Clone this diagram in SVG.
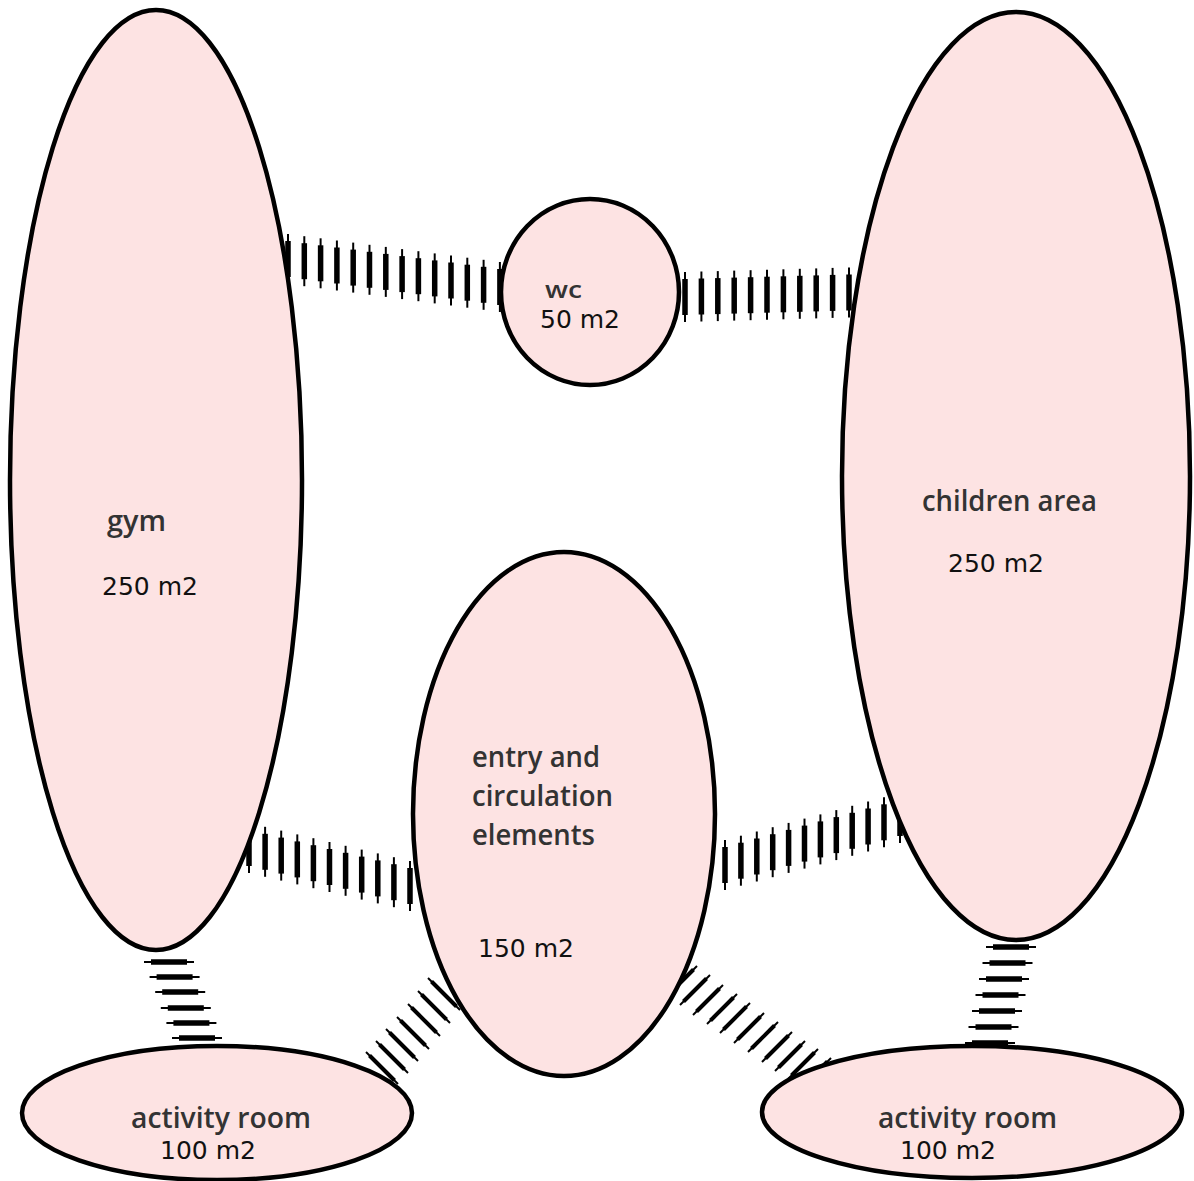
<svg xmlns="http://www.w3.org/2000/svg" xmlns:xlink="http://www.w3.org/1999/xlink" width="1194" height="1181" viewBox="0 0 1194 1181">
<style>
.node ellipse{fill:#fde3e3;stroke:#000;stroke-width:4.5}
.lbl{font-family:"Open Sans","DejaVu Sans",sans-serif;font-size:28px;font-weight:600;fill:#333}
.wc{font-size:23px}
.num{font-family:"DejaVu Sans","Liberation Sans",sans-serif;font-size:25px;fill:#111}
.tk line{stroke:#000;stroke-linecap:butt}
</style>
<defs>
<g id="tv" class="tk"><line x1="0" y1="-25" x2="0" y2="25" stroke-width="2"/><line x1="0" y1="-18" x2="0" y2="18" stroke-width="5.5"/></g>
<g id="th" class="tk"><line x1="-25" y1="0" x2="25" y2="0" stroke-width="2"/><line x1="-18" y1="0" x2="18" y2="0" stroke-width="5.5"/></g>
<g id="tb" class="tk"><line x1="-16" y1="-16" x2="16" y2="16" stroke-width="2"/><line x1="-12.5" y1="-12.5" x2="12.5" y2="12.5" stroke-width="4"/></g>
<g id="tf" class="tk"><line x1="-15" y1="15" x2="15" y2="-15" stroke-width="2"/><line x1="-11.5" y1="11.5" x2="11.5" y2="-11.5" stroke-width="4"/></g>
</defs>
<rect width="1194" height="1181" fill="#fff"/>
<g id="connectors">
<g id="gym-wc">
<use xlink:href="#tv" x="288" y="259"/><use xlink:href="#tv" x="304.3" y="261.2"/><use xlink:href="#tv" x="320.6" y="263.3"/><use xlink:href="#tv" x="336.9" y="265.5"/><use xlink:href="#tv" x="353.2" y="267.6"/><use xlink:href="#tv" x="369.5" y="269.8"/><use xlink:href="#tv" x="385.8" y="271.9"/><use xlink:href="#tv" x="402.1" y="274.1"/><use xlink:href="#tv" x="418.4" y="276.2"/><use xlink:href="#tv" x="434.7" y="278.4"/><use xlink:href="#tv" x="451" y="280.5"/><use xlink:href="#tv" x="467.3" y="282.7"/><use xlink:href="#tv" x="483.6" y="284.8"/><use xlink:href="#tv" x="499.9" y="287"/>
</g>
<g id="wc-children">
<use xlink:href="#tv" x="685" y="297"/><use xlink:href="#tv" x="701.4" y="296.5"/><use xlink:href="#tv" x="717.8" y="296.1"/><use xlink:href="#tv" x="734.2" y="295.6"/><use xlink:href="#tv" x="750.6" y="295.2"/><use xlink:href="#tv" x="767" y="294.7"/><use xlink:href="#tv" x="783.4" y="294.3"/><use xlink:href="#tv" x="799.8" y="293.8"/><use xlink:href="#tv" x="816.2" y="293.4"/><use xlink:href="#tv" x="832.6" y="292.9"/><use xlink:href="#tv" x="849" y="292.5"/>
</g>
<g id="gym-entry">
<use xlink:href="#tv" x="249" y="848"/><use xlink:href="#tv" x="265.1" y="851.8"/><use xlink:href="#tv" x="281.2" y="855.6"/><use xlink:href="#tv" x="297.3" y="859.4"/><use xlink:href="#tv" x="313.4" y="863.2"/><use xlink:href="#tv" x="329.5" y="867"/><use xlink:href="#tv" x="345.6" y="870.8"/><use xlink:href="#tv" x="361.7" y="874.6"/><use xlink:href="#tv" x="377.8" y="878.4"/><use xlink:href="#tv" x="393.9" y="882.2"/><use xlink:href="#tv" x="410" y="886"/>
</g>
<g id="entry-children">
<use xlink:href="#tv" x="725" y="865"/><use xlink:href="#tv" x="740.9" y="860.7"/><use xlink:href="#tv" x="756.8" y="856.5"/><use xlink:href="#tv" x="772.7" y="852.2"/><use xlink:href="#tv" x="788.6" y="847.9"/><use xlink:href="#tv" x="804.5" y="843.6"/><use xlink:href="#tv" x="820.4" y="839.4"/><use xlink:href="#tv" x="836.3" y="835.1"/><use xlink:href="#tv" x="852.2" y="830.8"/><use xlink:href="#tv" x="868.1" y="826.5"/><use xlink:href="#tv" x="884" y="822.3"/><use xlink:href="#tv" x="900" y="818"/>
</g>
<g id="gym-activity1">
<use xlink:href="#th" x="169" y="962"/><use xlink:href="#th" x="174.6" y="977"/><use xlink:href="#th" x="180.2" y="992"/><use xlink:href="#th" x="185.8" y="1008"/><use xlink:href="#th" x="191.4" y="1023"/><use xlink:href="#th" x="197" y="1038"/>
</g>
<g id="children-activity2">
<use xlink:href="#th" x="1011" y="947"/><use xlink:href="#th" x="1007.5" y="963"/><use xlink:href="#th" x="1004" y="979"/><use xlink:href="#th" x="1000.5" y="995"/><use xlink:href="#th" x="997" y="1011"/><use xlink:href="#th" x="993.5" y="1027"/><use xlink:href="#th" x="990" y="1043"/>
</g>
<g id="entry-activity1">
<use xlink:href="#tb" x="444" y="994"/><use xlink:href="#tb" x="434" y="1007"/><use xlink:href="#tb" x="424" y="1020"/><use xlink:href="#tb" x="413" y="1033"/><use xlink:href="#tb" x="402" y="1045"/><use xlink:href="#tb" x="392" y="1057"/><use xlink:href="#tb" x="382" y="1068"/>
</g>
<g id="entry-activity2">
<use xlink:href="#tf" x="682" y="981"/><use xlink:href="#tf" x="695" y="990"/><use xlink:href="#tf" x="708" y="1000"/><use xlink:href="#tf" x="722" y="1009"/><use xlink:href="#tf" x="735" y="1018"/><use xlink:href="#tf" x="749" y="1028"/><use xlink:href="#tf" x="763" y="1037"/><use xlink:href="#tf" x="777" y="1047"/><use xlink:href="#tf" x="790" y="1056"/><use xlink:href="#tf" x="803" y="1064"/><use xlink:href="#tf" x="816" y="1073"/>
</g>
</g>
<g id="gym" class="node">
<ellipse cx="156" cy="480" rx="146" ry="470"/>
<text class="lbl" x="107" y="531" textLength="59" lengthAdjust="spacingAndGlyphs">gym</text>
<text class="num" x="102" y="595">250 m2</text>
</g>
<g id="wc" class="node">
<ellipse cx="590" cy="292" rx="89" ry="93"/>
<text class="lbl wc" x="545" y="298" textLength="37" lengthAdjust="spacingAndGlyphs">wc</text>
<text class="num" x="540" y="328">50 m2</text>
</g>
<g id="children-area" class="node">
<ellipse cx="1016" cy="476" rx="174" ry="464"/>
<text class="lbl" x="922" y="511" textLength="175" lengthAdjust="spacingAndGlyphs">children area</text>
<text class="num" x="948" y="572">250 m2</text>
</g>
<g id="entry" class="node">
<ellipse cx="564" cy="814" rx="151" ry="262"/>
<text class="lbl" x="472" y="767" textLength="128" lengthAdjust="spacingAndGlyphs">entry and</text>
<text class="lbl" x="472" y="806" textLength="141" lengthAdjust="spacingAndGlyphs">circulation</text>
<text class="lbl" x="472" y="845" textLength="123" lengthAdjust="spacingAndGlyphs">elements</text>
<text class="num" x="478" y="957">150 m2</text>
</g>
<g id="activity-room-1" class="node">
<ellipse cx="217" cy="1113" rx="195" ry="67"/>
<text class="lbl" x="131" y="1128" textLength="180" lengthAdjust="spacingAndGlyphs">activity room</text>
<text class="num" x="160" y="1159">100 m2</text>
</g>
<g id="activity-room-2" class="node">
<ellipse cx="972" cy="1112" rx="210" ry="66"/>
<text class="lbl" x="878" y="1128" textLength="179" lengthAdjust="spacingAndGlyphs">activity room</text>
<text class="num" x="900" y="1159">100 m2</text>
</g>
</svg>
